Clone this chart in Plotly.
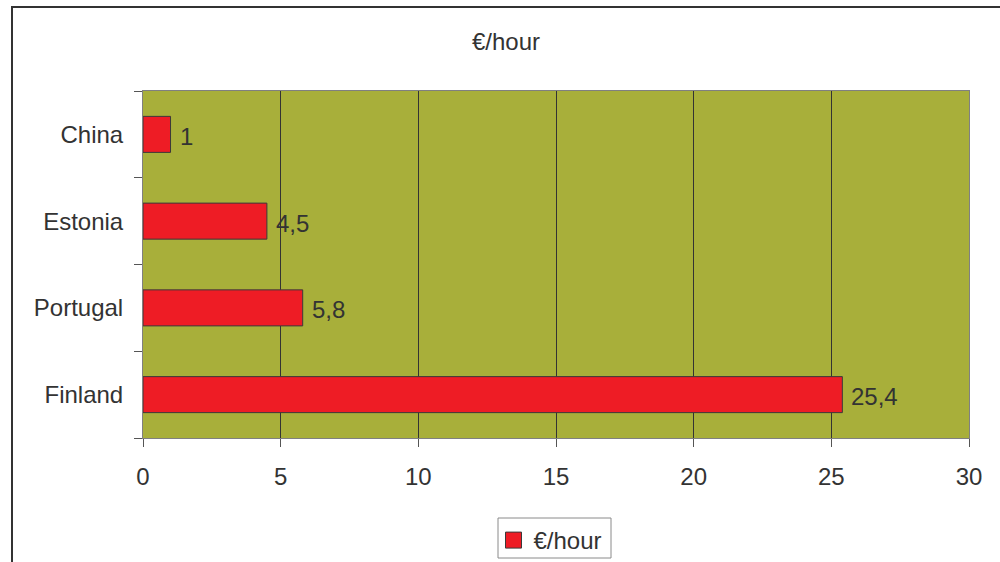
import plotly.graph_objects as go

# Hourly labour cost by country (bottom to top)
countries = ["Finland", "Portugal", "Estonia", "China"]
cost_per_hour = [25.4, 5.8, 4.5, 1]
series_name = "€/hour"
x_ticks = [0, 5, 10, 15, 20, 25, 30]

labels = [f"{v:g}".replace(".", ",") for v in cost_per_hour]

FONT = "Liberation Sans, Arial, sans-serif"
TXT = "#333333"
BAR_RED = "#EE1C25"
BAR_EDGE = "#3a3a3a"
FS = 24

# plot-area geometry in pixels, used to place frame shapes in paper units
L, R, T, B = 143, 31, 91, 124
PW, PH = 1000 - L - R, 562 - T - B


def px_x(p):
    return (p - L) / PW


def px_y(p):
    return (562 - B - p) / PH


fig = go.Figure()

fig.add_trace(
    go.Bar(
        y=countries,
        x=cost_per_hour,
        orientation="h",
        name=series_name,
        width=0.415,
        marker=dict(color=BAR_RED, line=dict(color=BAR_EDGE, width=1)),
        showlegend=False,
        hoverinfo="x+y",
    )
)

# legend entry with a square swatch
fig.add_trace(
    go.Scatter(
        x=[None],
        y=[None],
        mode="markers",
        name=series_name,
        marker=dict(symbol="square", size=16, color=BAR_RED, line=dict(color=BAR_EDGE, width=1)),
        showlegend=True,
    )
)

# value labels to the right of each bar
annotations = [
    dict(
        x=v,
        y=c,
        xref="x",
        yref="y",
        text=t,
        showarrow=False,
        xanchor="left",
        yanchor="middle",
        xshift=7,
        yshift=-2,
        font=dict(size=FS, color=TXT, family=FONT),
    )
    for c, v, t in zip(countries, cost_per_hour, labels)
]

fig.update_layout(
    width=1000,
    height=562,
    margin=dict(l=L, r=R, t=T, b=B, autoexpand=False),
    paper_bgcolor="white",
    plot_bgcolor="#A8AF3A",
    font=dict(family=FONT, size=FS, color=TXT),
    title=dict(
        text="€/hour",
        x=0.506,
        xanchor="center",
        y=1 - 42 / 562,
        yanchor="middle",
        font=dict(size=FS, color=TXT, family=FONT),
    ),
    legend=dict(
        orientation="h",
        x=px_x(550.5),
        xanchor="center",
        y=px_y(518),
        yanchor="top",
        borderwidth=0,
        bgcolor="rgba(0,0,0,0)",
        itemwidth=30,
        font=dict(size=FS, color=TXT, family=FONT),
    ),
    xaxis=dict(
        range=[0, 30],
        tickvals=x_ticks,
        ticks="outside",
        ticklen=8,
        tickcolor="#555555",
        showgrid=True,
        gridcolor="#333333",
        gridwidth=1,
        showline=True,
        linecolor="#808080",
        linewidth=1,
        mirror=True,
        zeroline=False,
        automargin=False,
        tickfont=dict(size=FS, color=TXT),
        ticklabelstandoff=9,
    ),
    yaxis=dict(
        categoryorder="array",
        categoryarray=countries,
        tickson="boundaries",
        ticks="outside",
        ticklen=8,
        tickcolor="#555555",
        showgrid=False,
        showline=True,
        linecolor="#808080",
        linewidth=1,
        mirror=True,
        automargin=False,
        tickfont=dict(size=FS, color=TXT),
        ticklabelstandoff=14,
    ),
    annotations=annotations,
    shapes=[
        # outer chart frame
        dict(
            type="rect",
            xref="paper",
            yref="paper",
            x0=px_x(12),
            x1=px_x(1004),
            y0=px_y(566),
            y1=px_y(7),
            line=dict(color="#333333", width=2),
            fillcolor="rgba(0,0,0,0)",
            layer="below",
        ),
        # legend box
        dict(
            type="rect",
            xref="paper",
            yref="paper",
            x0=px_x(498),
            x1=px_x(611),
            y0=px_y(558),
            y1=px_y(518),
            line=dict(color="#8a8a8a", width=1),
            fillcolor="white",
            layer="below",
        ),
    ],
)

fig.write_html("out.html")
